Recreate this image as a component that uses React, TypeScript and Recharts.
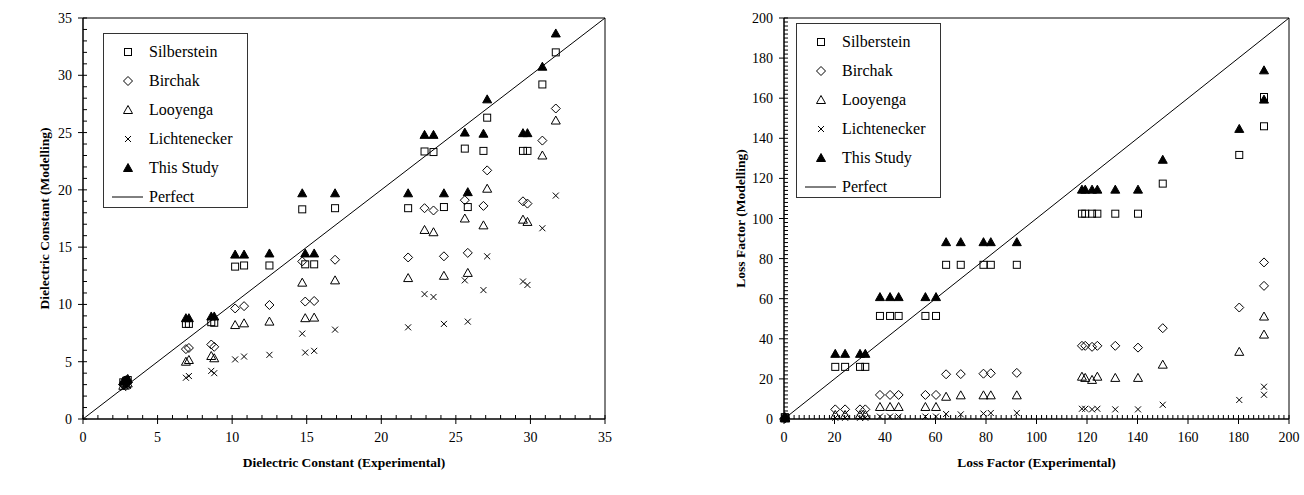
import React from "react";
import { ScatterChart, Scatter, XAxis, YAxis, ReferenceArea, Legend } from "recharts";

const FONT = '"Liberation Serif", "Times New Roman", serif';

// Left panel: dielectric constant
const dcExperimental = [2.7, 2.9, 3.0, 6.9, 7.1, 8.6, 8.8, 10.2, 10.8, 12.5, 14.7, 14.9, 15.5, 16.9, 21.8, 22.9, 23.5, 24.2, 25.6, 25.8, 26.85, 27.1, 29.5, 29.8, 30.8, 31.7];
const dcSilberstein = [3.2, 3.3, 3.4, 8.3, 8.3, 8.45, 8.4, 13.3, 13.4, 13.4, 18.3, 13.5, 13.5, 18.4, 18.4, 23.35, 23.3, 18.5, 23.6, 18.5, 23.4, 26.3, 23.4, 23.4, 29.2, 32.0];
const dcBirchak = [3.0, 3.1, 3.2, 6.1, 6.2, 6.5, 6.3, 9.65, 9.85, 9.95, 13.75, 10.25, 10.3, 13.9, 14.1, 18.4, 18.2, 14.2, 19.1, 14.5, 18.6, 21.7, 19.0, 18.8, 24.3, 27.1];
const dcLooyenga = [2.9, 3.0, 3.1, 5.0, 5.15, 5.5, 5.3, 8.2, 8.35, 8.5, 11.9, 8.8, 8.85, 12.1, 12.3, 16.5, 16.3, 12.5, 17.5, 12.75, 16.9, 20.1, 17.4, 17.2, 23.0, 26.05];
const dcLichtenecker = [2.7, 2.8, 2.9, 3.6, 3.75, 4.2, 4.0, 5.2, 5.45, 5.6, 7.45, 5.8, 5.95, 7.8, 8.0, 10.9, 10.65, 8.3, 12.1, 8.5, 11.25, 14.2, 12.0, 11.7, 16.65, 19.5];
const dcThisStudy = [3.3, 3.4, 3.5, 8.8, 8.8, 8.95, 8.95, 14.35, 14.35, 14.45, 19.7, 14.45, 14.45, 19.7, 19.7, 24.8, 24.8, 19.7, 25.0, 19.8, 24.9, 27.9, 24.95, 24.95, 30.75, 33.65];
const dcPerfect = [0, 35];

// Right panel: loss factor
const lfExperimental = [0.3, 0.5, 20.3, 24.2, 30.1, 32.2, 38.0, 42.0, 45.4, 56.0, 60.2, 64.2, 70.0, 79.0, 81.9, 92.2, 118.0, 119.3, 122.0, 124.1, 131.2, 140.2, 150.0, 180.3, 190.1, 190.1];
const lfSilberstein = [0.9, 0.7, 26.0, 26.0, 26.0, 26.0, 51.4, 51.4, 51.4, 51.4, 51.4, 76.9, 76.9, 76.9, 76.9, 76.9, 102.4, 102.4, 102.4, 102.4, 102.4, 102.4, 117.4, 131.7, 160.6, 146.0];
const lfBirchak = [0.5, 0.4, 4.8, 4.8, 4.8, 4.8, 12.0, 12.0, 12.0, 12.0, 12.0, 22.3, 22.4, 22.6, 22.8, 23.0, 36.5, 36.5, 36.0, 36.5, 36.5, 35.6, 45.3, 55.6, 78.1, 66.4];
const lfLooyenga = [0.4, 0.3, 2.0, 2.0, 2.0, 2.0, 6.0, 6.0, 6.0, 6.0, 6.0, 11.1, 11.8, 11.8, 11.8, 11.8, 21.1, 20.5, 19.5, 21.1, 20.5, 20.5, 27.1, 33.5, 51.1, 42.1];
const lfLichtenecker = [0.3, 0.2, 0.6, 0.6, 0.6, 0.6, 1.2, 1.2, 1.2, 1.2, 1.2, 2.5, 2.3, 2.7, 3.0, 3.0, 5.1, 5.1, 4.8, 5.1, 4.8, 4.8, 7.1, 9.5, 16.1, 12.1];
const lfThisStudy = [1.0, 0.8, 32.5, 32.5, 32.5, 32.5, 60.8, 60.8, 60.8, 60.8, 60.8, 88.2, 88.2, 88.2, 88.2, 88.2, 114.4, 114.4, 114.4, 114.4, 114.4, 114.4, 129.3, 144.7, 173.9, 159.3];
const lfPerfect = [0, 200];

const SERIES = [
  { name: "Silberstein", kind: "square" },
  { name: "Birchak", kind: "diamond" },
  { name: "Looyenga", kind: "triangle" },
  { name: "Lichtenecker", kind: "cross" },
  { name: "This Study", kind: "filled" },
];
const LEGEND_ORDER = [...SERIES.map((s) => s.name), "Perfect"];

const pts = (xs: number[], ys: number[]) => xs.map((x, i) => ({ x, y: ys[i] }));

const marker = (kind: string, cx: number, cy: number) => {
  switch (kind) {
    case "square":
      return <rect x={cx - 3.5} y={cy - 3.5} width={7} height={7} fill="none" stroke="#000" strokeWidth={1} />;
    case "diamond":
      return <polygon points={`${cx},${cy - 4.5} ${cx + 4.5},${cy} ${cx},${cy + 4.5} ${cx - 4.5},${cy}`} fill="none" stroke="#000" strokeWidth={1} />;
    case "triangle":
      return <polygon points={`${cx},${cy - 4.5} ${cx + 4.5},${cy + 3.5} ${cx - 4.5},${cy + 3.5}`} fill="none" stroke="#000" strokeWidth={1} />;
    case "cross":
      return (
        <g stroke="#000" strokeWidth={1}>
          <line x1={cx - 3} y1={cy - 3} x2={cx + 3} y2={cy + 3} />
          <line x1={cx - 3} y1={cy + 3} x2={cx + 3} y2={cy - 3} />
        </g>
      );
    case "filled":
      return <polygon points={`${cx},${cy - 4.5} ${cx + 4.5},${cy + 3.5} ${cx - 4.5},${cy + 3.5}`} fill="#000" stroke="#000" strokeWidth={1} />;
    default:
      return <g />;
  }
};

const makeXTick = (major: number) => (props: any) => {
  const { x, y, payload } = props;
  const v = payload.value;
  const isMajor = Math.abs(v % major) < 1e-6;
  return (
    <g>
      <line x1={x} y1={y - 4} x2={x} y2={isMajor ? y + 5 : y} stroke="#000" />
      {isMajor && (
        <text x={x} y={y + 23} textAnchor="middle" fontSize={14} fontFamily={FONT} fill="#000">
          {v}
        </text>
      )}
    </g>
  );
};

const makeYTick = (major: number) => (props: any) => {
  const { x, y, payload } = props;
  const v = payload.value;
  const isMajor = Math.abs(v % major) < 1e-6;
  return (
    <g>
      <line x1={isMajor ? x - 5 : x} y1={y} x2={x + 4} y2={y} stroke="#000" />
      {isMajor && (
        <text x={x - 11} y={y + 5} textAnchor="end" fontSize={14} fontFamily={FONT} fill="#000">
          {v}
        </text>
      )}
    </g>
  );
};

const LegendBox = () => (
  <svg width={145} height={175} style={{ display: "block" }}>
    <rect x={0.5} y={0.5} width={144} height={174} fill="#fff" stroke="#333" />
    {LEGEND_ORDER.map((name, i) => {
      const cy = 19 + i * 29;
      const s = SERIES.find((d) => d.name === name);
      return (
        <g key={name}>
          {s ? marker(s.kind, 25, cy) : <line x1={9} y1={cy} x2={40} y2={cy} stroke="#000" />}
          <text x={46} y={cy + 5} fontSize={16} fontFamily={FONT} fill="#000">
            {name}
          </text>
        </g>
      );
    })}
  </svg>
);

type PanelProps = {
  width: number;
  yAxisWidth: number;
  marginRight: number;
  max: number;
  minor: number;
  major: number;
  exp: number[];
  values: number[][];
  perfect: number[];
  xTitle: string;
  yTitle: string;
  yTitleGap: number;
  legendLeft: number;
  legendTop: number;
};

const Panel = (p: PanelProps) => {
  const ticks: number[] = [];
  for (let t = 0; t <= p.max + 1e-9; t += p.minor) ticks.push(Math.round(t * 100) / 100);
  return (
    <ScatterChart width={p.width} height={495} margin={{ top: 18, right: p.marginRight, bottom: 0, left: 0 }}>
      <ReferenceArea x1={0} x2={p.max} y1={0} y2={p.max} fill="none" fillOpacity={0} stroke="#000" strokeWidth={1} />
      <XAxis
        type="number"
        dataKey="x"
        domain={[0, p.max]}
        ticks={ticks}
        interval={0}
        height={76}
        tickSize={0}
        tickMargin={0}
        tickLine={false}
        axisLine={{ stroke: "#000" }}
        tick={makeXTick(p.major)}
        label={(lp: any) => {
          const vb = lp.viewBox || {};
          return (
            <text x={vb.x + vb.width / 2} y={vb.y + 48} textAnchor="middle" fontSize={13.5} fontWeight="bold" fontFamily={FONT} fill="#000">
              {p.xTitle}
            </text>
          );
        }}
      />
      <YAxis
        type="number"
        dataKey="y"
        domain={[0, p.max]}
        ticks={ticks}
        interval={0}
        width={p.yAxisWidth}
        tickSize={0}
        tickMargin={0}
        tickLine={false}
        axisLine={{ stroke: "#000" }}
        tick={makeYTick(p.major)}
        label={(lp: any) => {
          const vb = lp.viewBox || {};
          const cx = vb.x + vb.width - p.yTitleGap;
          const cy = vb.y + vb.height / 2;
          return (
            <text x={cx} y={cy} transform={`rotate(-90, ${cx}, ${cy})`} textAnchor="middle" dominantBaseline="central" fontSize={13.5} fontWeight="bold" fontFamily={FONT} fill="#000">
              {p.yTitle}
            </text>
          );
        }}
      />
      <Legend
        layout="vertical"
        align="center"
        verticalAlign="middle"
        wrapperStyle={{ left: p.legendLeft, top: p.legendTop, width: 145, height: 175 }}
        content={LegendBox}
      />
      {SERIES.map((s, i) => (
        <Scatter
          key={s.name}
          name={s.name}
          data={pts(p.exp, p.values[i])}
          isAnimationActive={false}
          shape={(sp: any) => marker(s.kind, sp.cx, sp.cy)}
        />
      ))}
      <Scatter
        name="Perfect"
        data={pts(p.perfect, p.perfect)}
        isAnimationActive={false}
        line={{ stroke: "#000", strokeWidth: 1 }}
        legendType="line"
        shape={() => <g />}
      />
    </ScatterChart>
  );
};

export default function App() {
  return (
    <div style={{ position: "absolute", left: 0, top: 0, width: 1304, height: 495, background: "#fff" }}>
      <div style={{ position: "absolute", left: 0, top: 0 }}>
        <Panel
          width={650}
          yAxisWidth={83}
          marginRight={45}
          max={35}
          minor={1}
          major={5}
          exp={dcExperimental}
          values={[dcSilberstein, dcBirchak, dcLooyenga, dcLichtenecker, dcThisStudy]}
          perfect={dcPerfect}
          xTitle="Dielectric Constant (Experimental)"
          yTitle="Dielectric Constant (Modelling)"
          yTitleGap={39}
          legendLeft={103}
          legendTop={33}
        />
      </div>
      <div style={{ position: "absolute", left: 650, top: 0 }}>
        <Panel
          width={654}
          yAxisWidth={134}
          marginRight={15}
          max={200}
          minor={2}
          major={20}
          exp={lfExperimental}
          values={[lfSilberstein, lfBirchak, lfLooyenga, lfLichtenecker, lfThisStudy]}
          perfect={lfPerfect}
          xTitle="Loss Factor (Experimental)"
          yTitle="Loss Factor (Modelling)"
          yTitleGap={44}
          legendLeft={146}
          legendTop={23}
        />
      </div>
    </div>
  );
}
